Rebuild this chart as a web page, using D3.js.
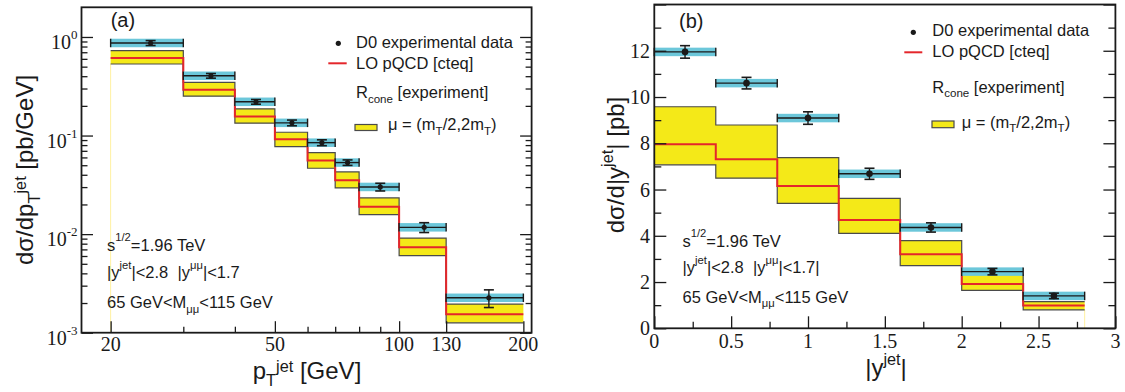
<!DOCTYPE html>
<html><head><meta charset="utf-8">
<script src="https://cdn.jsdelivr.net/npm/d3@7"></script>
<style>
html,body{margin:0;padding:0;background:#fff;}
svg{display:block;}
text{white-space:pre;}
</style></head><body>
<svg id="c" width="1125" height="392"></svg>
<script>
// ---------- Panel (a): pT^jet ----------
const ptEdges   = [20, 30, 40, 50, 60, 70, 80, 100, 130, 200];
const ptCenters = [25, 35, 45, 55, 65, 75, 90, 115, 165];
const ptData    = [0.869, 0.404, 0.220, 0.1346, 0.0847, 0.0532, 0.0301, 0.01172, 0.00226];
const ptErr     = [0.05, 0.022, 0.012, 0.009, 0.0058, 0.0034, 0.0027, 0.00134, 0.00046];
const ptTheory  = [0.612, 0.291, 0.156, 0.0919, 0.0557, 0.0352, 0.0190, 0.00734, 0.00154];
const ptTheoLo  = [0.532, 0.251, 0.1336, 0.0773, 0.0466, 0.0294, 0.01574, 0.00604, 0.00126];
const ptTheoHi  = [0.726, 0.346, 0.1867, 0.108, 0.0672, 0.0428, 0.0233, 0.00912, 0.00195];
const ptXMajor  = [20, 50, 100, 130, 200];
const ptXMinor  = [30, 40, 60, 70, 80, 90];
const ptYExp    = [-3, -2, -1, 0];

// ---------- Panel (b): |y^jet| ----------
const yEdges    = [0, 0.4, 0.8, 1.2, 1.6, 2.0, 2.4, 2.8];
const yCenters  = [0.2, 0.6, 1.0, 1.4, 1.8, 2.2, 2.6];
const yData     = [11.95, 10.60, 9.09, 6.68, 4.36, 2.45, 1.40];
const yErr      = [0.27, 0.25, 0.27, 0.24, 0.20, 0.14, 0.12];
const yTheory   = [7.96, 7.31, 6.15, 4.68, 3.20, 1.91, 0.99];
const yTheoLo   = [7.07, 6.49, 5.40, 4.10, 2.71, 1.64, 0.80];
const yTheoHi   = [9.58, 8.79, 7.38, 5.62, 3.79, 2.33, 1.15];
const yXMajor   = [0, 0.5, 1, 1.5, 2, 2.5, 3];
const yXMinor   = [0.25, 0.75, 1.25, 1.75, 2.25, 2.75];
const yYMajor   = [0, 2, 4, 6, 8, 10, 12, 14];
const yYMinor   = [1, 3, 5, 7, 9, 11, 13];
const yYLabels  = [0, 2, 4, 6, 8, 10, 12];

const svg = d3.select("#c");
const SANS = "'Liberation Sans', Arial, Helvetica, sans-serif";
const SERIF = "'Liberation Serif', 'Times New Roman', serif";
const YELLOW = "#f4e918", CYAN = "#6cc7da", RED = "#e4262b", OUT = "#4a4a4a", INK = "#1a1a1a";

function rich(g, x, y, segs, o) {
  const fs = o.size;
  const t = g.append("text").attr("x", x).attr("y", y)
    .attr("font-family", o.family || SANS).attr("font-size", fs)
    .attr("fill", INK).attr("text-anchor", o.anchor || "start");
  if (o.rotate) t.attr("transform", `rotate(${o.rotate},${x},${y})`);
  let cur = 0;
  segs.forEach(s => {
    const target = s.sup ? -fs * (o.supRaise || 0.45) : s.sub ? fs * 0.28 : 0;
    t.append("tspan").attr("dy", target - cur)
      .attr("font-size", (s.sup || s.sub) ? fs * (o.scriptScale || 0.66) : fs)
      .text(s.t);
    cur = target;
  });
  return t;
}

function drawBands(g, x, y, edges, lo, hi, th) {
  const pts = arr => edges.map((e, i) => [e, arr[Math.min(i, arr.length - 1)]]);
  const area = d3.area().x(d => x(d[0])).y0(d => y(d[1])).y1(d => y(d[2])).curve(d3.curveStepAfter);
  const both = edges.map((e, i) => [e, lo[Math.min(i, lo.length - 1)], hi[Math.min(i, hi.length - 1)]]);
  g.append("path").attr("d", area(both)).attr("fill", YELLOW);
  const step = d3.line().x(d => x(d[0])).y(d => y(d[1])).curve(d3.curveStepAfter);
  g.append("path").attr("d", step(pts(hi))).attr("fill", "none").attr("stroke", OUT).attr("stroke-width", 1.2);
  g.append("path").attr("d", step(pts(lo))).attr("fill", "none").attr("stroke", OUT).attr("stroke-width", 1.2);
  g.append("path").attr("d", step(pts(th))).attr("fill", "none").attr("stroke", RED).attr("stroke-width", 2);
}

function drawData(g, x, y, edges, centers, val, err, r) {
  const n = val.length;
  const idx = d3.range(n);
  const bandH = 8.5;
  g.selectAll(null).data(idx).join("rect")
    .attr("x", i => x(edges[i])).attr("width", i => x(edges[i + 1]) - x(edges[i]))
    .attr("y", i => y(val[i]) - bandH / 2).attr("height", bandH).attr("fill", CYAN);
  g.selectAll(null).data(idx).join("line")
    .attr("x1", i => x(edges[i])).attr("x2", i => x(edges[i + 1]))
    .attr("y1", i => y(val[i])).attr("y2", i => y(val[i]))
    .attr("stroke", INK).attr("stroke-width", 1.4);
  ["lo", "hi"].forEach(side => {
    g.selectAll(null).data(idx).join("line")
      .attr("x1", i => x(side === "lo" ? edges[i] : edges[i + 1]))
      .attr("x2", i => x(side === "lo" ? edges[i] : edges[i + 1]))
      .attr("y1", i => y(val[i]) - bandH / 2).attr("y2", i => y(val[i]) + bandH / 2)
      .attr("stroke", INK).attr("stroke-width", 1.4);
  });
  g.selectAll(null).data(idx).join("line")
    .attr("x1", i => x(centers[i])).attr("x2", i => x(centers[i]))
    .attr("y1", i => y(val[i] - err[i])).attr("y2", i => y(val[i] + err[i]))
    .attr("stroke", INK).attr("stroke-width", 1.4);
  [-1, 1].forEach(sg => {
    g.selectAll(null).data(idx).join("line")
      .attr("x1", i => x(centers[i]) - 5).attr("x2", i => x(centers[i]) + 5)
      .attr("y1", i => y(val[i] + sg * err[i])).attr("y2", i => y(val[i] + sg * err[i]))
      .attr("stroke", INK).attr("stroke-width", 1.6);
  });
  g.selectAll(null).data(idx).join("circle")
    .attr("cx", i => x(centers[i])).attr("cy", i => y(val[i])).attr("r", r).attr("fill", INK);
}

function ticks(g, axisGen, tx, ty) {
  const a = g.append("g").attr("transform", `translate(${tx},${ty})`).call(axisGen);
  a.select(".domain").remove();
  a.selectAll("line").attr("stroke", INK).attr("stroke-width", 1.3);
  a.selectAll("text").remove();
}

function legend(g, o) {
  g.append("circle").attr("cx", o.dotX).attr("cy", o.dotY).attr("r", 2.6).attr("fill", INK);
  rich(g, o.tx, o.b1, [{t: "D0 experimental data"}], {size: 16.5});
  g.append("line").attr("x1", o.lineX1).attr("x2", o.lineX2).attr("y1", o.lineY).attr("y2", o.lineY)
    .attr("stroke", RED).attr("stroke-width", 2);
  rich(g, o.tx, o.b2, [{t: "LO pQCD [cteq]"}], {size: 16.5});
  rich(g, o.tx, o.b3, [{t: "R"}, {t: "cone", sub: true}, {t: " [experiment]"}], {size: 16.5, scriptScale: 0.7});
  g.append("rect").attr("x", o.boxX).attr("y", o.boxY).attr("width", 22).attr("height", o.boxH)
    .attr("fill", YELLOW).attr("stroke", OUT).attr("stroke-width", 1.2);
  rich(g, o.muX, o.b4, [{t: "μ = (m"}, {t: "T", sub: true}, {t: "/2,2m"}, {t: "T", sub: true}, {t: ")"}], {size: 16.5, scriptScale: 0.7});
}

function notes(g, x0, b, trail) {
  rich(g, x0, b[0], [{t: "s"}, {t: "1/2", sup: true}, {t: "=1.96 TeV"}], {size: 16.5, supRaise: 0.6, scriptScale: 0.68});
  rich(g, x0, b[1], [{t: "|y"}, {t: "jet", sup: true}, {t: "|<2.8  |y"}, {t: "μμ", sup: true}, {t: "|<1.7" + trail}], {size: 16.5, supRaise: 0.5, scriptScale: 0.68});
  rich(g, x0, b[2], [{t: "65 GeV<M"}, {t: "μμ", sub: true}, {t: "<115 GeV"}], {size: 16.5, scriptScale: 0.68});
}

// ================= Panel (a) =================
{
  const L = 81.5, R = 531.6, T = 7.3, B = 332.7;
  const x = d3.scaleLog().domain([17, 209.4]).range([L, R]);
  const y = d3.scaleLog().domain([1e-3, 2]).range([B, T]);
  const g = svg.append("g");

  // faint yellow edge line of the filled histogram
  g.append("line").attr("x1", x(ptEdges[0])).attr("x2", x(ptEdges[0]))
    .attr("y1", y(ptTheoLo[0])).attr("y2", B).attr("stroke", "#fff1a0").attr("stroke-width", 1);
  drawBands(g, x, y, ptEdges, ptTheoLo, ptTheoHi, ptTheory);
  drawData(g, x, y, ptEdges, ptCenters, ptData, ptErr, 2.6);

  // ticks
  const yMaj = ptYExp.map(e => Math.pow(10, e));
  const yMin = [];
  ptYExp.forEach(e => { for (let k = 2; k <= 9; k++) { const v = k * Math.pow(10, e); if (v < 2) yMin.push(v); } });
  ticks(g, d3.axisLeft(y).tickValues(yMaj).tickSize(-11.5), L, 0);
  ticks(g, d3.axisLeft(y).tickValues(yMin).tickSize(-6), L, 0);
  ticks(g, d3.axisRight(y).tickValues(yMaj).tickSize(-11.5), R, 0);
  ticks(g, d3.axisRight(y).tickValues(yMin).tickSize(-6), R, 0);
  ticks(g, d3.axisBottom(x).tickValues(ptXMajor).tickSize(-11.5), 0, B);
  ticks(g, d3.axisBottom(x).tickValues(ptXMinor).tickSize(-6), 0, B);

  g.append("rect").attr("x", L).attr("y", T).attr("width", R - L).attr("height", B - T)
    .attr("fill", "none").attr("stroke", INK).attr("stroke-width", 1.8);

  // tick labels
  ptXMajor.forEach(v => {
    g.append("text").attr("x", x(v)).attr("y", 351).attr("text-anchor", "middle")
      .attr("font-family", SERIF).attr("font-size", 20).attr("fill", INK).text(v);
  });
  ptYExp.forEach(e => {
    rich(g, 77.5, y(Math.pow(10, e)) + 12, [{t: "10"}, {t: String(e), sup: true}],
      {size: 20, family: SERIF, anchor: "end", supRaise: 0.5, scriptScale: 0.65});
  });

  // titles
  rich(g, 307, 379, [{t: "p"}, {t: "T", sub: true}, {t: "jet", sup: true}, {t: " [GeV]"}], {size: 24, anchor: "middle", scriptScale: 0.68, supRaise: 0.3});
  rich(g, 33, 170, [{t: "dσ/dp"}, {t: "T", sub: true}, {t: "jet", sup: true}, {t: " [pb/GeV]"}], {size: 24, anchor: "middle", rotate: -90, scriptScale: 0.68, supRaise: 0.3});
  rich(g, 110.7, 27, [{t: "(a)"}], {size: 20});

  legend(g, {dotX: 338.3, dotY: 43.3, tx: 356, b1: 47.7, lineX1: 328.3, lineX2: 346.7, lineY: 63.3,
    b2: 69, b3: 98, boxX: 355, boxY: 124.5, boxH: 6, muX: 388, b4: 130});
  notes(g, 107, [250.7, 277.7, 308], "");
}

// ================= Panel (b) =================
{
  const L = 654.3, R = 1115.4, T = 4.5, B = 328.3;
  const x = d3.scaleLinear().domain([0, 3]).range([L, R]);
  const y = d3.scaleLinear().domain([0, 14]).range([B, T]);
  const g = svg.append("g");

  const last = yEdges.length - 1;
  g.append("line").attr("x1", x(yEdges[last])).attr("x2", x(yEdges[last]))
    .attr("y1", y(yTheoLo[yTheoLo.length - 1])).attr("y2", B).attr("stroke", "#fff1a0").attr("stroke-width", 1);
  drawBands(g, x, y, yEdges, yTheoLo, yTheoHi, yTheory);
  drawData(g, x, y, yEdges, yCenters, yData, yErr, 3.3);

  ticks(g, d3.axisLeft(y).tickValues(yYMajor).tickSize(-12), L, 0);
  ticks(g, d3.axisLeft(y).tickValues(yYMinor).tickSize(-7), L, 0);
  ticks(g, d3.axisRight(y).tickValues(yYMajor).tickSize(-12), R, 0);
  ticks(g, d3.axisRight(y).tickValues(yYMinor).tickSize(-7), R, 0);
  ticks(g, d3.axisBottom(x).tickValues(yXMajor).tickSize(-12), 0, B);
  ticks(g, d3.axisBottom(x).tickValues(yXMinor).tickSize(-6.5), 0, B);

  g.append("rect").attr("x", L).attr("y", T).attr("width", R - L).attr("height", B - T)
    .attr("fill", "none").attr("stroke", INK).attr("stroke-width", 1.8);

  yXMajor.forEach(v => {
    g.append("text").attr("x", x(v)).attr("y", 348.3).attr("text-anchor", "middle")
      .attr("font-family", SERIF).attr("font-size", 20).attr("fill", INK).text(String(v));
  });
  yYLabels.forEach(v => {
    g.append("text").attr("x", 650).attr("y", y(v) + 7).attr("text-anchor", "end")
      .attr("font-family", SERIF).attr("font-size", 20).attr("fill", INK).text(String(v));
  });

  rich(g, 886, 376, [{t: "|y"}, {t: "jet", sup: true}, {t: "|"}], {size: 24, anchor: "middle", scriptScale: 0.68, supRaise: 0.45});
  rich(g, 624, 165, [{t: "dσ/d|y"}, {t: "jet", sup: true}, {t: "| [pb]"}], {size: 24, anchor: "middle", rotate: -90, scriptScale: 0.68, supRaise: 0.45});
  rich(g, 679, 28, [{t: "(b)"}], {size: 20});

  legend(g, {dotX: 913.3, dotY: 32.3, tx: 932.3, b1: 36, lineX1: 904.3, lineX2: 922.3, lineY: 52.3,
    b2: 57.3, b3: 92.7, boxX: 932, boxY: 121, boxH: 6.7, muX: 961.7, b4: 127.7});
  notes(g, 682.5, [246.7, 272.7, 302.7], "|");
}
</script>
</body></html>
